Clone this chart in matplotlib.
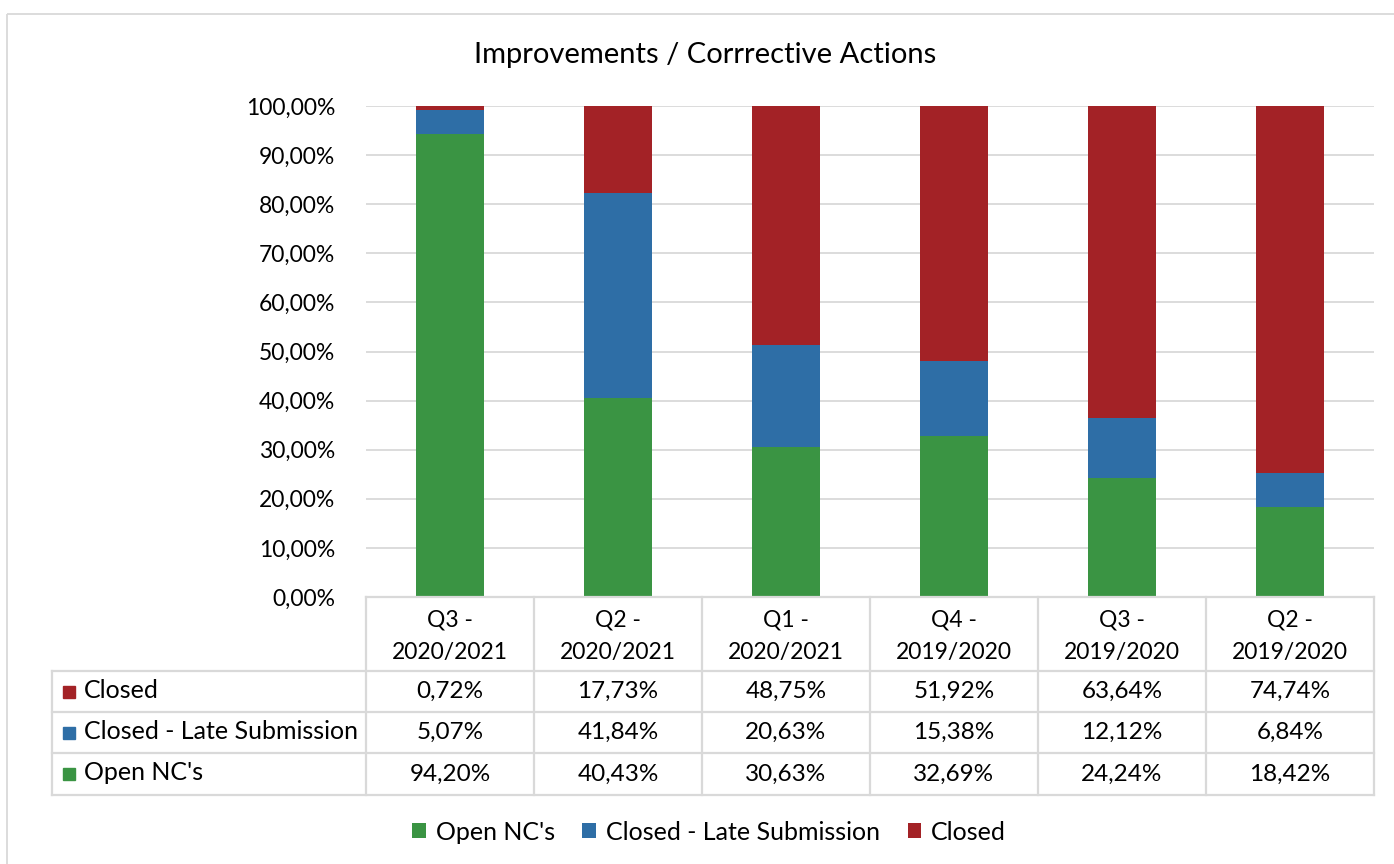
import matplotlib
matplotlib.use("Agg")
import matplotlib.pyplot as plt
from matplotlib.patches import Rectangle
from matplotlib.lines import Line2D
import numpy as np

plt.rcParams['font.family'] = ['Lato', 'DejaVu Sans']

categories = ["Q3 -\n2020/2021", "Q2 -\n2020/2021", "Q1 -\n2020/2021",
              "Q4 -\n2019/2020", "Q3 -\n2019/2020", "Q2 -\n2019/2020"]
open_nc = [94.20, 40.43, 30.63, 32.69, 24.24, 18.42]
closed_late = [5.07, 41.84, 20.63, 15.38, 12.12, 6.84]
closed = [0.72, 17.73, 48.75, 51.92, 63.64, 74.74]
yticks = [0, 10, 20, 30, 40, 50, 60, 70, 80, 90, 100]
title = "Improvements / Corrrective Actions"

c_green = "#3A9443"
c_blue = "#2E6EA6"
c_red = "#A32226"
grid_c = "#D9D9D9"

W, H = 1394, 864
fig = plt.figure(figsize=(W / 100, H / 100), dpi=100)

def fx(x): return x / W
def fy(y): return 1 - y / H

# plot axes
L, R, T, B = 366, 1374, 106, 597
ax = fig.add_axes([fx(L), fy(B), fx(R - L), (B - T) / H])
x = np.arange(len(categories))
bw = 0.40
b1 = ax.bar(x, open_nc, bw, color=c_green, label="Open NC's", zorder=3)
b2 = ax.bar(x, closed_late, bw, bottom=open_nc, color=c_blue,
            label="Closed - Late Submission", zorder=3)
bottom2 = [a + b for a, b in zip(open_nc, closed_late)]
b3 = ax.bar(x, closed, bw, bottom=bottom2, color=c_red, label="Closed", zorder=3)
ax.set_xlim(-0.5, len(categories) - 0.5)
ax.set_ylim(0, 100)
ax.set_yticks(yticks)
ax.set_yticklabels([f"{v:.2f}%".replace(".", ",") for v in yticks], fontsize=16.5)
ax.yaxis.grid(True, color=grid_c, lw=1.3, zorder=0)
ax.set_xticks([])
for s in ax.spines.values():
    s.set_visible(False)
ax.tick_params(axis='y', length=0, pad=22)

# overlay for table and frame
ov = fig.add_axes([0, 0, 1, 1], zorder=-1)
ov.set_xlim(0, W)
ov.set_ylim(H, 0)
ov.axis('off')
ov2 = fig.add_axes([0, 0, 1, 1], zorder=5)
ov2.set_xlim(0, W)
ov2.set_ylim(H, 0)
ov2.axis('off')
ov2.patch.set_alpha(0)

ov.add_patch(Rectangle((7, 14), W + 10, H, fill=False, ec="#D9D9D9", lw=1.3))

fig.text(fx(705), fy(55), title, ha='center', va='center', fontsize=21)

col_w = (R - L) / len(categories)
rows_y = [597, 671, 712, 753, 795]
lc = "#D9D9D9"
lw = 1.6
# vertical lines
for i in range(len(categories) + 1):
    xx = L + i * col_w
    ov2.add_line(Line2D([xx, xx], [rows_y[0], rows_y[-1]], color=lc, lw=lw))
ov2.add_line(Line2D([52, 52], [rows_y[1], rows_y[-1]], color=lc, lw=lw))
ov2.add_line(Line2D([L, R], [rows_y[0], rows_y[0]], color=lc, lw=lw))
for yy in rows_y[1:]:
    ov2.add_line(Line2D([52, R], [yy, yy], color=lc, lw=lw))

# header
for i, c in enumerate(categories):
    cx = L + (i + 0.5) * col_w
    l1, l2 = c.split("\n")
    ov2.text(cx, 620, l1, ha='center', va='center', fontsize=16.5)
    ov2.text(cx, 652, l2, ha='center', va='center', fontsize=16.5)

series = [("Closed", closed, c_red), ("Closed - Late Submission", closed_late, c_blue),
          ("Open NC's", open_nc, c_green)]
for r, (name, vals, col) in enumerate(series):
    y0, y1 = rows_y[r + 1], rows_y[r + 2]
    cy = (y0 + y1) / 2
    ov2.add_patch(Rectangle((63, cy - 6), 12, 12, color=col))
    ov2.text(84, cy - 1, name, ha='left', va='center', fontsize=18)
    for i, v in enumerate(vals):
        cx = L + (i + 0.5) * col_w
        ov2.text(cx, cy, f"{v:.2f}%".replace(".", ","), ha='center', va='center', fontsize=17.5)

leg = fig.legend(handles=[b1, b2, b3], loc='center', bbox_to_anchor=(fx(709), fy(832)),
                 ncol=3, frameon=False, fontsize=18, handlelength=0.55, handleheight=0.55,
                 columnspacing=1.1, handletextpad=0.4)

fig.savefig("out.png", dpi=100)
